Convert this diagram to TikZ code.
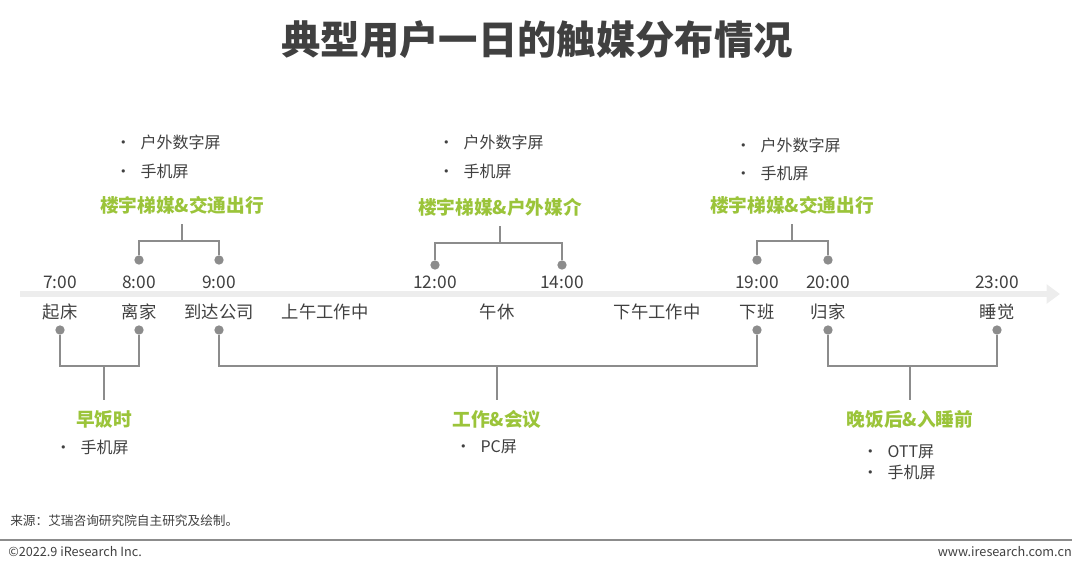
\documentclass[tikz,border=0pt]{standalone}
\usepackage{fontspec}
\setmainfont{Noto Sans CJK SC}
\usetikzlibrary{arrows.meta,positioning}
\definecolor{txtgray}{HTML}{404040}
\definecolor{linegray}{HTML}{8C8C8C}
\definecolor{axisgray}{HTML}{EDEDED}
\definecolor{leafgreen}{HTML}{9BC43A}
\begin{document}
\begin{tikzpicture}
	[ x=0.75pt, y=-0.75pt,
		timelabel/.style={text=txtgray,font=\fontsize{13}{15}\selectfont,inner sep=0pt},
		grouplabel/.style={text=leafgreen,font=\fontsize{14}{16}\selectfont\bfseries,inner sep=0pt},
		bulletitem/.style={text=txtgray,font=\fontsize{12}{14}\selectfont,inner sep=0pt,anchor=west},
		bracket/.style={draw=linegray,line width=1.5pt},
		pin/.style={circle,fill=linegray,inner sep=0pt,minimum size=7pt}]
	\useasboundingbox (0,0) rectangle (1080,575);
	\node[text=txtgray,font=\fontsize{29.5}{34}\selectfont\bfseries] (title) at (537,40) {典型用户一日的触媒分布情况};

	% timeline
	\coordinate (axis start) at (20,294);
	\coordinate (axis end) at (1060,294);
	\draw[axisgray,line width=4.5pt,-{Triangle[length=10pt,width=14pt]}] (axis start) -- (axis end);

	% times above, events below
	\foreach \x/\t/\name in {60/7:00/t7,139/8:00/t8,219/9:00/t9,435/12:00/t12,562/14:00/t14,757/19:00/t19,828/20:00/t20,997/23:00/t23}
		\node[timelabel] (\name) at (\x,282) {\t};
	\foreach \x/\e/\name in {60/起床/wake,139/离家/leave,219/到达公司/arrive,325/上午工作中/morning,497/午休/lunch,657/下午工作中/afternoon,757/下班/offwork,828/归家/home,997/睡觉/sleep}
		\node[timelabel] (\name) at (\x,312) {\e};

	% upper brackets
	\foreach \a/\b/\m/\ay/\hy/\name in {139/219/182/260/241/up left,435/562/500/265/243/up mid,757/828/792/260/241/up right}{
		\node[pin] (\name a) at (\a,\ay) {};
		\node[pin] (\name b) at (\b,\ay) {};
		\coordinate (\name top) at (\m,{\hy-17});
		\draw[bracket] (\name a) |- (\b,\hy) -- (\name b);
		\draw[bracket] (\name top) -- (\m,\hy);
	}
	\node[grouplabel] (media left) at (182,205) {楼宇梯媒\&交通出行};
	\node[grouplabel] (media mid) at (500,207) {楼宇梯媒\&户外媒介};
	\node[grouplabel] (media right) at (792,205) {楼宇梯媒\&交通出行};
	\node[bulletitem] (ml1) at (115,142) {•\hspace{7pt}户外数字屏};
	\node[bulletitem] (ml2) at (115,171) {•\hspace{7pt}手机屏};
	\node[bulletitem] (mm1) at (438,142) {•\hspace{7pt}户外数字屏};
	\node[bulletitem] (mm2) at (438,171) {•\hspace{7pt}手机屏};
	\node[bulletitem] (mr1) at (735,145) {•\hspace{7pt}户外数字屏};
	\node[bulletitem] (mr2) at (735,173) {•\hspace{7pt}手机屏};

	% lower brackets
	\foreach \a/\b/\m/\name in {60/139/104/low left,219/757/497/low mid,828/997/910/low right}{
		\node[pin] (\name a) at (\a,330) {};
		\node[pin] (\name b) at (\b,330) {};
		\coordinate (\name bottom) at (\m,400);
		\draw[bracket] (\name a) |- (\b,366) -- (\name b);
		\draw[bracket] (\m,366) -- (\name bottom);
	}
	\node[grouplabel] (breakfast) at (104,419) {早饭时};
	\node[grouplabel] (work) at (497,419) {工作\&会议};
	\node[grouplabel] (evening) at (910,419) {晚饭后\&入睡前};
	\node[bulletitem] (bf1) at (55,447) {•\hspace{7pt}手机屏};
	\node[bulletitem] (wk1) at (455,447) {•\hspace{7pt}PC屏};
	\node[bulletitem] (ev1) at (862,452) {•\hspace{7pt}OTT屏};
	\node[bulletitem] (ev2) at (862,472) {•\hspace{7pt}手机屏};

	% footer
	\node[text=txtgray,font=\fontsize{9.5}{11}\selectfont,inner sep=0pt,anchor=west] (source) at (10,521) {来源：艾瑞咨询研究院自主研究及绘制。};
	\coordinate (rule left) at (0,540);
	\coordinate (rule right) at (1072,540);
	\draw[linegray,line width=1pt] (rule left) -- (rule right);
	\node[text=txtgray,font=\fontsize{9.5}{11}\selectfont,inner sep=0pt,anchor=west] (copyright) at (8,552) {©2022.9 iResearch Inc.};
	\node[text=txtgray,font=\fontsize{9.5}{11}\selectfont,inner sep=0pt,anchor=east] (website) at (1072,552) {www.iresearch.com.cn};
\end{tikzpicture}
\end{document}
